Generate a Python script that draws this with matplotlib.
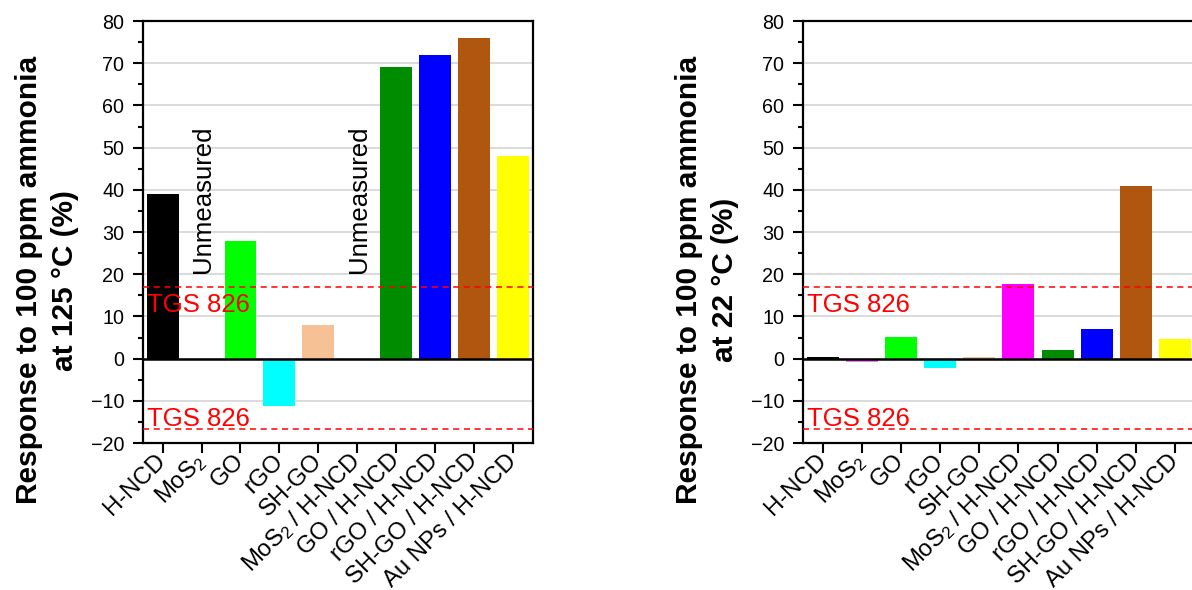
import matplotlib
matplotlib.use('Agg')
import matplotlib.pyplot as plt
from matplotlib.ticker import MultipleLocator

plt.rcParams['font.family'] = ['Liberation Sans', 'DejaVu Sans']
plt.rcParams['mathtext.fontset'] = 'custom'
plt.rcParams['mathtext.rm'] = 'Liberation Sans'
plt.rcParams['mathtext.it'] = 'Liberation Sans:italic'
plt.rcParams['mathtext.bf'] = 'Liberation Sans:bold'

# data
labels = ['H-NCD', r'MoS$_{\mathregular{2}}$', 'GO', 'rGO', 'SH-GO',
          r'MoS$_{\mathregular{2}}$ / H-NCD', 'GO / H-NCD', 'rGO / H-NCD',
          'SH-GO / H-NCD', 'Au NPs / H-NCD']
resp_125 = [39, None, 28, -11.2, 8, None, 69, 72, 76, 48]
resp_22 = [0.5, -0.8, 5.2, -2.1, 0.5, 17.8, 2.1, 7.1, 41, 4.7]
colors = ['#000000', '#E87CF0', '#00FF00', '#00FFFF', '#F7C196',
          '#FF00FF', '#008C00', '#0000FF', '#B0560F', '#FFFF00']
tgs_upper = 16.9
tgs_lower = -16.75
ylabels = ['Response to 100 ppm ammonia\nat 125 \u00b0C (%)',
           'Response to 100 ppm ammonia\nat 22 \u00b0C (%)']

fig = plt.figure(figsize=(11.92, 5.90), dpi=100)
ax1 = fig.add_axes([0.12, 0.249, 0.327, 0.7153])
ax2 = fig.add_axes([0.6737, 0.249, 0.3285, 0.7153])


def draw(ax, values, ylabel, xtext):
    x = list(range(len(values)))
    for i, v in enumerate(values):
        if v is None:
            ax.text(i + 0.05, 20.4, 'Unmeasured', rotation=90, ha='center',
                    va='bottom', fontsize=18.5, color='black', zorder=4)
        else:
            ax.bar(i, v, width=0.82, color=colors[i], zorder=2)
    ax.axhline(0, color='black', lw=1.8, zorder=3)
    ax.axhline(tgs_upper, color='red', ls=(0, (4, 3)), lw=1.1, zorder=3)
    ax.axhline(tgs_lower, color='red', ls=(0, (4, 3)), lw=1.1, zorder=3)
    ax.text(-0.41, 11.1, 'TGS 826', color='red', fontsize=18.5,
            va='baseline', ha='left', zorder=4)
    ax.text(-0.41, -15.9, 'TGS 826', color='red', fontsize=18.5,
            va='baseline', ha='left', zorder=4)
    ax.set_xlim(-0.5, 9.5)
    ax.set_ylim(-20, 80)
    ax.yaxis.set_major_locator(MultipleLocator(10))
    ax.yaxis.set_minor_locator(MultipleLocator(5))
    ax.grid(axis='y', which='major', color='#d4d4d4', lw=1.2, zorder=0)
    ax.set_axisbelow(True)
    ax.set_xticks(x)
    ax.set_xticklabels(labels, rotation=45, ha='right', va='center',
                       rotation_mode='anchor', fontsize=17.2)
    ax.tick_params(axis='x', direction='out', length=7.5, width=1.5, pad=3)
    ax.tick_params(axis='y', which='major', direction='out', length=7.5,
                   width=1.5, labelsize=14.2, pad=6)
    ax.tick_params(axis='y', which='minor', direction='out', length=3.6,
                   width=1.5)
    for s in ax.spines.values():
        s.set_linewidth(1.6)
    fig.text(xtext, 0.525, ylabel, rotation=90, ha='center', va='center',
             multialignment='center', fontsize=21.5, fontweight='bold',
             linespacing=1.4)


draw(ax1, resp_125, ylabels[0], 47 / 1192)
draw(ax2, resp_22, ylabels[1], 707 / 1192)

fig.savefig('out.png', dpi=100)
